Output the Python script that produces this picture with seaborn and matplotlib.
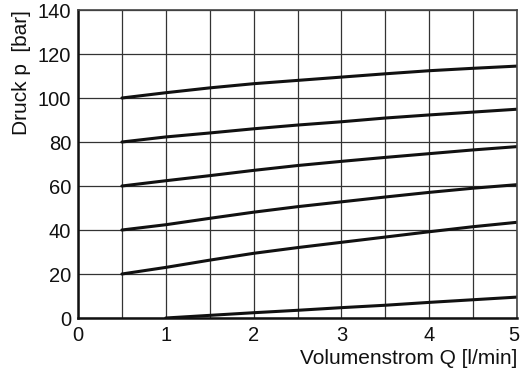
import matplotlib
matplotlib.use("Agg")
import matplotlib.pyplot as plt
import matplotlib.transforms as mtrans
import seaborn as sns
import pandas as pd
import numpy as np

# Data
q_main = [0.5, 1.0, 1.5, 2.0, 2.5, 3.0, 3.5, 4.0, 4.5, 5.0]
p_100 = [100.0, 102.4, 104.6, 106.5, 108.0, 109.5, 111.0, 112.4, 113.5, 114.5]
p_80 = [80.0, 82.3, 84.1, 86.0, 87.7, 89.2, 90.9, 92.3, 93.6, 94.9]
p_60 = [60.0, 62.4, 64.7, 67.1, 69.3, 71.2, 73.0, 74.7, 76.4, 77.9]
p_40 = [40.0, 42.4, 45.3, 48.1, 50.6, 52.8, 55.0, 57.1, 59.0, 60.6]
p_20 = [20.0, 23.0, 26.3, 29.4, 32.0, 34.4, 36.8, 39.2, 41.5, 43.5]
q_low = [1.0, 1.5, 2.0, 2.5, 3.0, 3.5, 4.0, 4.5, 5.0]
p_0 = [0.0, 1.2, 2.4, 3.5, 4.7, 5.8, 7.1, 8.3, 9.5]

x_ticks = [0, 1, 2, 3, 4, 5]
y_ticks = [0, 20, 40, 60, 80, 100, 120, 140]
x_label = "Volumenstrom Q [l/min]"
y_label = "Druck p  [bar]"

frames = []
for name, q, p in [("100", q_main, p_100), ("80", q_main, p_80), ("60", q_main, p_60),
                   ("40", q_main, p_40), ("20", q_main, p_20), ("0", q_low, p_0)]:
    frames.append(pd.DataFrame({"Q": q, "p": p, "curve": name}))
df = pd.concat(frames, ignore_index=True)

sns.set_theme(style="white")
plt.rcParams["font.family"] = ["Liberation Sans", "DejaVu Sans"]

fig = plt.figure(figsize=(5.21, 3.74), dpi=100)
ax = fig.add_axes([78 / 521, 1 - 318 / 374, (517 - 78) / 521, (318 - 10) / 374])

sns.lineplot(data=df, x="Q", y="p", hue="curve", palette=["#111111"] * 6,
             linewidth=2.2, legend=False, ax=ax, sort=False)

ax.set_xlim(0, 5)
ax.set_ylim(0, 140)
ax.set_xticks(x_ticks)
ax.set_yticks(y_ticks)
ax.set_xticks(np.arange(0.5, 5, 1.0), minor=True)
ax.grid(True, which="both", axis="x", color="#333333", linewidth=0.9)
ax.grid(True, which="major", axis="y", color="#333333", linewidth=0.9)
ax.set_axisbelow(True)
ax.tick_params(axis="both", which="both", length=0, labelsize=14.5, colors="#111111")
ax.tick_params(axis="x", pad=6)
ax.tick_params(axis="y", pad=5)

# keep the last x tick label inside the figure
last = ax.get_xticklabels()[-1]
last.set_transform(last.get_transform() + mtrans.ScaledTranslation(-3 / 100, 0, fig.dpi_scale_trans))

for s in ["left", "bottom"]:
    ax.spines[s].set_color("#111111")
    ax.spines[s].set_linewidth(1.8)
for s in ["top", "right"]:
    ax.spines[s].set_color("#444444")
    ax.spines[s].set_linewidth(1.2)

ax.set_xlabel(x_label, fontsize=15, color="#111111", loc="right", labelpad=3)
ax.set_ylabel(y_label, fontsize=15, color="#111111", loc="top", labelpad=5)

fig.savefig("out.png", dpi=100)
